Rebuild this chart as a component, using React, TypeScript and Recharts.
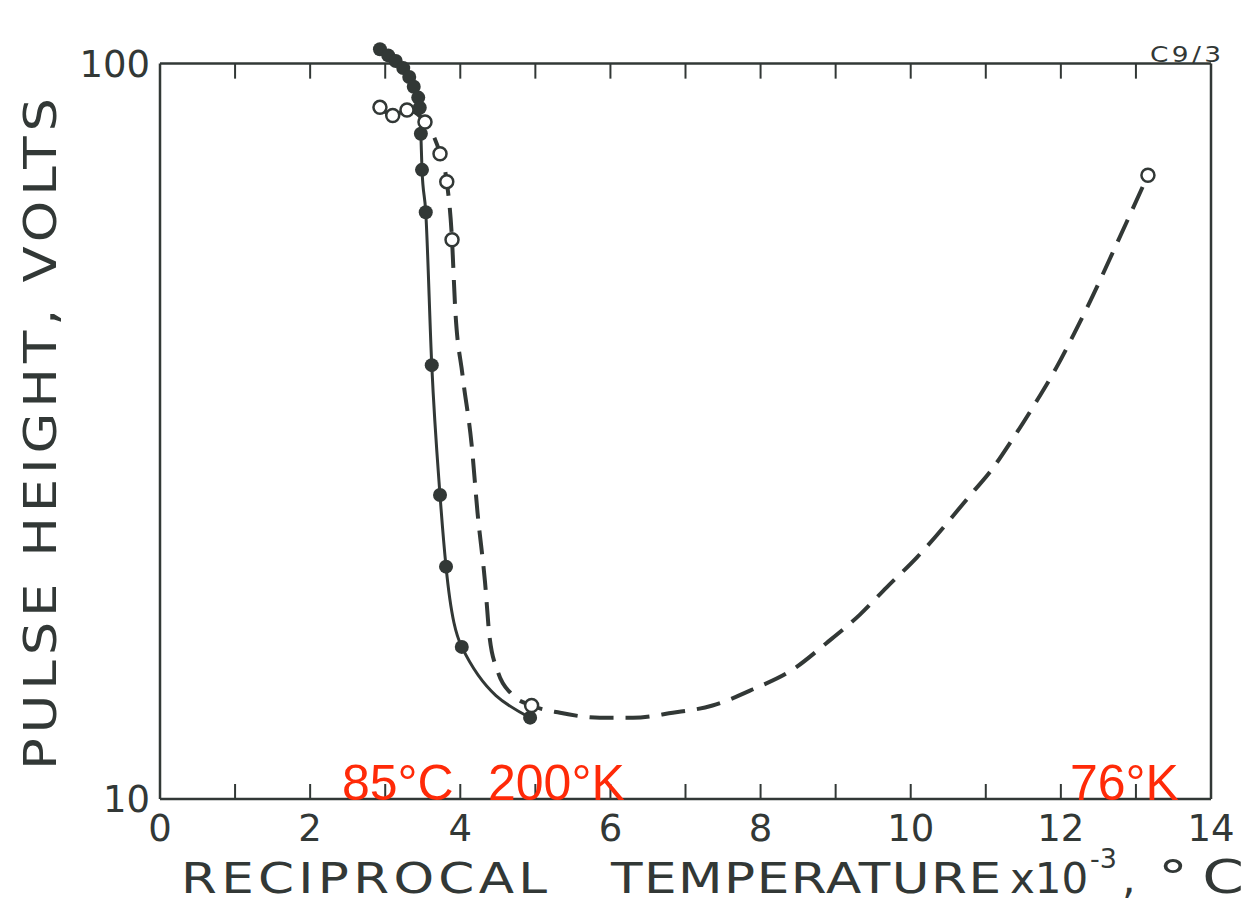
import { ComposedChart, Line, Scatter, XAxis, YAxis, ReferenceLine } from 'recharts';

// reciprocal temperature (x10^-3) vs pulse height (volts)

// filled points, joined by the solid curve
const solidX = [2.93, 3.04, 3.14, 3.24, 3.32, 3.38, 3.44, 3.46, 3.475, 3.49, 3.54, 3.62, 3.73, 3.81, 4.02, 4.93];
const solidY = [104.6, 102.6, 100.8, 98.6, 95.9, 93.0, 89.9, 87.1, 80.3, 71.7, 62.8, 38.9, 25.9, 20.7, 16.1, 12.9];

// open points
const openX = [2.93, 3.1, 3.29, 3.53, 3.73, 3.82, 3.89, 4.95, 13.16];
const openY = [87.2, 85.0, 86.5, 83.3, 75.4, 69.1, 57.6, 13.4, 70.5];

// dashed curve as drawn through the open points
const dashedX = [
  2.93, 3.1, 3.29, 3.53, 3.73, 3.82, 3.89, 3.93, 4.03, 4.15, 4.23, 4.33, 4.39, 4.5, 4.68, 4.95,
  5.33, 5.86, 6.3, 6.83, 7.36, 7.9, 8.43, 8.88, 9.32, 9.68, 10.08, 10.85, 11.05, 11.36, 11.68,
  11.94, 12.18, 12.42, 12.65, 12.88, 13.16,
];
const dashedY = [
  87.2, 85.0, 86.5, 83.3, 75.4, 69.1, 57.6, 46.9, 37.7, 30.4, 24.5, 19.7, 16.6, 14.9, 13.9, 13.4,
  13.1, 12.9, 12.9, 13.1, 13.4, 14.1, 15.0, 16.3, 17.8, 19.4, 21.3, 26.3, 27.8, 30.9, 34.8,
  38.6, 43.0, 48.2, 54.2, 61.0, 70.5,
];

const xTicks = [0, 1, 2, 3, 4, 5, 6, 7, 8, 9, 10, 11, 12, 13, 14];
const topTicks = [1, 2, 3, 4, 5, 6, 7, 8, 9, 10, 11, 12, 13];
const topTickEnd = 95.4;
const yTicks = [10, 100];

const INK = '#323836';
const FONT = '"DejaVu Sans", sans-serif';
const RED = '#ff2a08';

const pts = (xs: number[], ys: number[]) => xs.map((x, i) => ({ x, y: ys[i] }));

const XTick = (props: any) => {
  const { x, y, payload } = props;
  if (payload.value % 2 !== 0) return <g />;
  return (
    <text x={x} y={y} dy="0.71em" textAnchor="middle" fontSize={37} fill={INK} fontFamily={FONT}>
      {payload.value}
    </text>
  );
};

const filledDot = (p: any) => <circle cx={p.cx} cy={p.cy} r={7} fill={INK} />;
const openDot = (p: any) => (
  <circle cx={p.cx} cy={p.cy} r={6.5} fill="#fff" stroke={INK} strokeWidth={2.5} />
);

// wide lettering: stretch the glyphs, then spread to the measured length
const Wide = ({ x, y, len, size, sx = 1.2, rot = 0, children }: any) => (
  <text
    transform={`translate(${x} ${y}) rotate(${rot}) scale(${sx} 1)`}
    fontSize={size}
    textLength={len / sx}
    lengthAdjust="spacing"
  >
    {children}
  </text>
);

export default function App() {
  const frame = { stroke: INK, strokeWidth: 2.5 };

  return (
    <div style={{ position: 'absolute', left: 0, top: 0, width: 1250, height: 917, background: '#fff' }}>
      <ComposedChart width={1250} height={917} margin={{ top: 45, right: 39, bottom: 78, left: 100 }}>
        <XAxis
          type="number"
          dataKey="x"
          domain={[0, 14]}
          ticks={xTicks}
          height={40}
          tickSize={-15}
          tickMargin={31}
          tick={XTick}
          axisLine={frame}
          tickLine={{ stroke: INK, strokeWidth: 2 }}
        />
        <YAxis
          type="number"
          dataKey="y"
          scale="log"
          domain={[10, 106]}
          ticks={yTicks}
          width={60}
          axisLine={false}
          tickLine={false}
          tickMargin={4}
          tick={{ fontSize: 37, fill: INK, fontFamily: FONT }}
        />
        <ReferenceLine y={100} {...frame} />
        <ReferenceLine segment={[{ x: 0, y: 10 }, { x: 0, y: 100 }]} {...frame} />
        <ReferenceLine segment={[{ x: 14, y: 10 }, { x: 14, y: 100 }]} {...frame} />
        {topTicks.map((t) => (
          <ReferenceLine key={t} segment={[{ x: t, y: 100 }, { x: t, y: topTickEnd }]} stroke={INK} strokeWidth={2} />
        ))}
        <Line
          data={pts(dashedX, dashedY)}
          dataKey="y"
          type="monotone"
          stroke={INK}
          strokeWidth={4}
          strokeDasharray="24 12"
          dot={false}
          activeDot={false}
          isAnimationActive={false}
        />
        <Line
          data={pts(solidX, solidY)}
          dataKey="y"
          type="monotone"
          stroke={INK}
          strokeWidth={3}
          dot={false}
          activeDot={false}
          isAnimationActive={false}
        />
        <Scatter data={pts(solidX, solidY)} dataKey="y" shape={filledDot} isAnimationActive={false} />
        <Scatter data={pts(openX, openY)} dataKey="y" shape={openDot} isAnimationActive={false} />
      </ComposedChart>

      <svg width={1250} height={917} style={{ position: 'absolute', left: 0, top: 0, pointerEvents: 'none' }}>
        <g fill={INK} fontFamily={FONT}>
          <Wide x={56} y={770} len={672} size={44} rot={-90}>PULSE HEIGHT, VOLTS</Wide>
          <Wide x={181} y={893} len={366} size={43}>RECIPROCAL</Wide>
          <Wide x={611} y={893} len={390} size={43}>TEMPERATURE</Wide>
          <text x={1010} y={893} fontSize={42}>x10</text>
          <text x={1090} y={868} fontSize={27}>-3</text>
          <text x={1122} y={893} fontSize={43}>,</text>
          <Wide x={1158} y={893} len={86} size={46} sx={1.3}>°C</Wide>
          <Wide x={1150} y={62} len={71} size={22} sx={1.2}>C9/3</Wide>
        </g>
        <g fill={RED} fontFamily='"Liberation Sans", Arial, sans-serif' fontSize={50}>
          <text x={342} y={800}>85°C</text>
          <text x={488} y={800}>200°K</text>
          <text x={1070} y={800}>76°K</text>
        </g>
      </svg>
    </div>
  );
}
